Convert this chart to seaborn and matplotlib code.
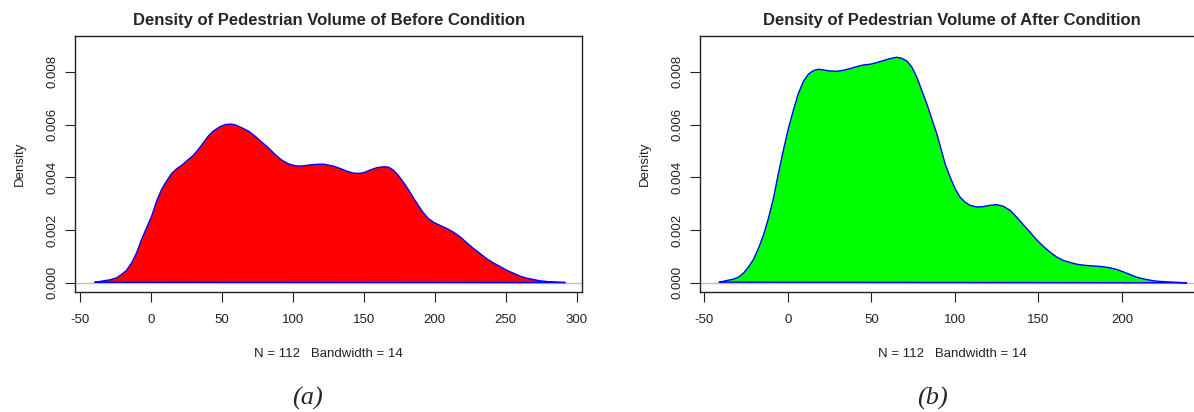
import matplotlib
matplotlib.use("Agg")
import matplotlib.pyplot as plt
import seaborn as sns

# density curves (x = pedestrian volume, y = density)
before_x = [-39.5, -28.9, -24.2, -20.7, -17.1, -13.6, -10.1, -6.6, -3.1, 0.5,
            4.0, 7.5, 11.0, 14.6, 18.1, 21.6, 25.1, 29.8, 33.4, 36.9, 40.4,
            43.9, 48.6, 52.1, 55.7, 59.2, 63.9, 68.6, 73.3, 78.0, 82.7, 87.4,
            92.1, 96.8, 101.5, 106.2, 110.9, 115.6, 121.4, 123.8, 128.5,
            133.2, 137.9, 142.6, 146.1, 149.6, 154.3, 159.0, 163.7, 167.3,
            170.8, 174.3, 177.8, 181.3, 184.9, 188.4, 191.9, 195.4, 199.0,
            203.7, 208.4, 213.1, 217.8, 222.5, 227.2, 231.9, 236.6, 241.2,
            245.9, 250.6, 255.3, 260.0, 264.7, 269.4, 274.1, 281.2, 291.8]
before_y = [0.00002, 0.000113, 0.000189, 0.000315, 0.000479, 0.000758,
            0.001137, 0.001643, 0.002086, 0.002529, 0.003098, 0.003541,
            0.003857, 0.004148, 0.004325, 0.004452, 0.004616, 0.004831,
            0.005059, 0.005312, 0.005565, 0.005755, 0.005919, 0.005995,
            0.00602, 0.005995, 0.005881, 0.005755, 0.005565, 0.005337,
            0.005122, 0.004869, 0.004654, 0.004515, 0.004439, 0.004427,
            0.004464, 0.00449, 0.004502, 0.004477, 0.004427, 0.004338,
            0.004237, 0.004161, 0.004148, 0.004174, 0.004274, 0.004363,
            0.004401, 0.004389, 0.004274, 0.004072, 0.003819, 0.003541,
            0.003225, 0.002934, 0.002655, 0.00244, 0.002301, 0.002175,
            0.002061, 0.001921, 0.001745, 0.001517, 0.001302, 0.001112,
            0.00091, 0.000758, 0.000619, 0.000479, 0.000365, 0.000252,
            0.000176, 0.000125, 0.000075, 0.000037, 0.00001]

after_x = [-40.9, -36.5, -32.5, -29.5, -26.5, -23.5, -20.6, -17.6, -14.6,
           -11.6, -8.6, -5.6, -2.6, 0.4, 3.4, 6.4, 9.3, 12.3, 15.3, 18.3,
           21.3, 25.3, 29.3, 33.3, 37.3, 41.2, 45.2, 49.2, 53.2, 57.2, 61.2,
           65.2, 68.2, 71.2, 74.1, 77.1, 80.1, 83.1, 86.1, 89.1, 91.1, 94.1,
           97.1, 100.1, 103.0, 106.0, 109.0, 113.0, 117.0, 121.0, 125.0,
           129.0, 133.0, 136.9, 140.9, 144.9, 148.9, 152.9, 156.9, 160.9,
           164.9, 168.8, 172.8, 176.8, 180.8, 184.8, 188.8, 192.8, 196.8,
           200.7, 204.7, 208.7, 212.7, 216.7, 220.7, 226.7, 234.6, 238.6]
after_y = [0.000024, 0.000087, 0.000138, 0.000214, 0.000366, 0.000594,
           0.000873, 0.001292, 0.001798, 0.002432, 0.003193, 0.004143,
           0.00503, 0.005854, 0.006551, 0.007185, 0.007629, 0.007908,
           0.008047, 0.008098, 0.008072, 0.008034, 0.008022, 0.00806,
           0.008123, 0.008199, 0.008262, 0.008288, 0.008351, 0.008427,
           0.008503, 0.008554, 0.008516, 0.008414, 0.008199, 0.007819,
           0.007312, 0.006805, 0.006235, 0.005664, 0.00522, 0.004524,
           0.004016, 0.003573, 0.003256, 0.003066, 0.002939, 0.002876,
           0.002889, 0.002939, 0.002965, 0.002901, 0.002749, 0.002495,
           0.002204, 0.001925, 0.001634, 0.00138, 0.001165, 0.000975,
           0.000848, 0.000772, 0.000708, 0.00067, 0.000645, 0.000632,
           0.000607, 0.000569, 0.000506, 0.000417, 0.000316, 0.000214,
           0.000151, 0.0001, 0.000062, 0.000037, 0.000013, 0.0]

n_obs = 112
bandwidth = 14
before_xticks = [-50, 0, 50, 100, 150, 200, 250, 300]
after_xticks = [-50, 0, 50, 100, 150, 200]
yticks = [0.000, 0.002, 0.004, 0.006, 0.008]

sns.set_style("ticks")
plt.rcParams['font.family'] = ['Liberation Sans', 'DejaVu Sans']

fig = plt.figure(figsize=(11.94, 4.12), dpi=100)


def density_panel(rect, xs, ys, fill, title, xlim, xticks, letter, letter_x):
    ax = fig.add_axes(rect)
    ax.axhline(0, color="#bebebe", lw=1, zorder=1)
    ax.fill(xs, ys, color=fill, lw=0, zorder=2)
    sns.lineplot(x=xs + [xs[0]], y=ys + [ys[0]], ax=ax, color="blue",
                 lw=1, sort=False, estimator=None, zorder=3)
    ax.set_xlim(*xlim)
    ax.set_ylim(-0.00036, 0.00936)
    ax.set_xticks(xticks)
    ax.set_xticklabels([str(t) for t in xticks])
    ax.set_yticks(yticks)
    ax.set_yticklabels([f"{t:.3f}" for t in yticks], rotation=90, va="center")
    ax.tick_params(length=7.5, width=0.8, color="#222222", labelsize=9.5,
                   labelcolor="#222222")
    ax.tick_params(axis="x", pad=8)
    ax.tick_params(axis="y", pad=4.4)
    for s in ax.spines.values():
        s.set_visible(True)
        s.set_color("#222222")
        s.set_linewidth(1)
    ax.set_title(title, fontsize=12, fontweight="bold", pad=7.7)
    ax.set_xlabel(f"N = {n_obs}   Bandwidth = {bandwidth}", fontsize=9.5,
                  labelpad=16, color="#222222")
    ax.set_ylabel("Density", fontsize=9.5, color="#222222")
    w_px = rect[2] * 1194
    ax.yaxis.set_label_coords(-55 / w_px, 0.5)
    ax.yaxis.label.set_va("center")
    fig.text(letter_x, 1 - 398 / 412, letter, fontsize=19, style="italic",
             family="Liberation Serif", ha="center", va="center")
    return ax


density_panel([75.3 / 1194, 1 - 292.3 / 412, 507 / 1194, 256.3 / 412],
              before_x, before_y, "#ff0000",
              "Density of Pedestrian Volume of Before Condition",
              (-53.3, 303.9), before_xticks, "(a)", 307 / 1194)
density_panel([700.3 / 1194, 1 - 292.3 / 412, 504 / 1194, 256.3 / 412],
              after_x, after_y, "#00ff00",
              "Density of Pedestrian Volume of After Condition",
              (-52.3, 249.2), after_xticks, "(b)", 932 / 1194)

fig.savefig("out.png", dpi=100)
